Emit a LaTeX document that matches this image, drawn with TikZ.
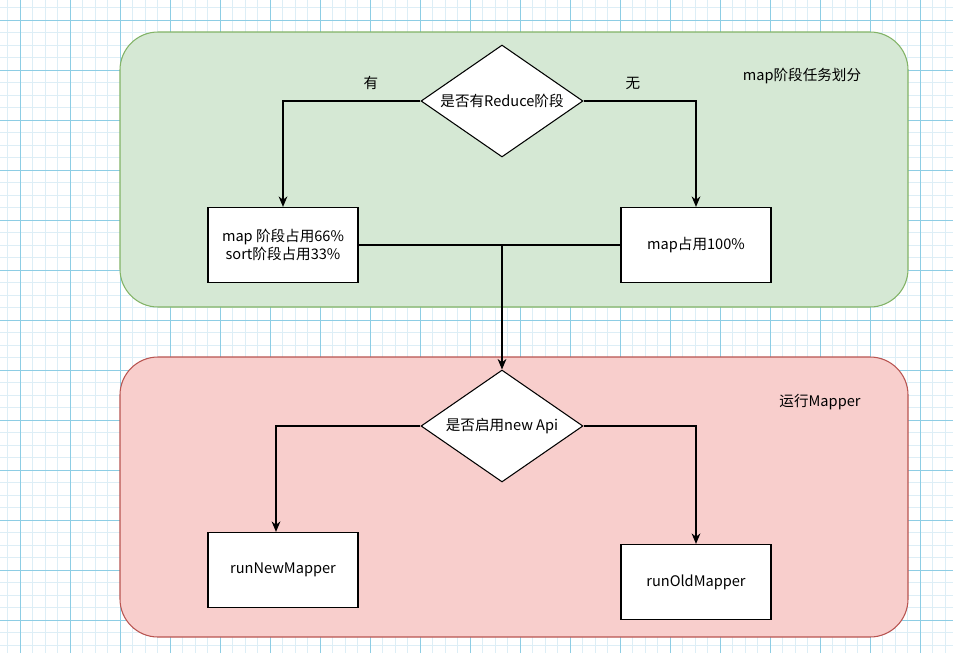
\documentclass[tikz,border=0pt]{standalone}
\usepackage{fontspec}
\setmainfont{Noto Sans CJK SC}
\usetikzlibrary{arrows.meta,positioning,shapes.geometric}
\definecolor{gridminor}{HTML}{DDEEF6}
\definecolor{gridmajor}{HTML}{8DCDE4}
\definecolor{grpgreen}{HTML}{D5E8D4}
\definecolor{grpgreenline}{HTML}{82B366}
\definecolor{grpred}{HTML}{F8CECC}
\definecolor{grpredline}{HTML}{B85450}
\tikzset{
  stepbox/.style ={draw,line width=0.7pt,fill=white,minimum width=3cm,minimum height=1.5cm,inner sep=2pt,align=center},
  choice/.style  ={diamond,draw,line width=0.6pt,fill=white,aspect=1.45,minimum width=3.24cm,minimum height=2.24cm,inner sep=0pt},
  group/.style   ={line width=0.6pt,rounded corners=0.76cm},
  ar/.style      ={line width=0.65pt,-{Stealth[length=6pt,width=5pt]}},
  ln/.style      ={line width=0.65pt},
  tag/.style     ={inner sep=1pt},
}
\begin{document}
\begin{tikzpicture}[x=0.02cm,y=-0.02cm,every node/.style={font=\fontsize{8.3pt}{10.2pt}\selectfont}]
  \useasboundingbox (0,0) rectangle (953,653);
  % grid
  \fill[white] (0,0) rectangle (953,653);
  \foreach \v in {7.5,20,...,953}{
    \draw[gridminor,line width=0.5pt] (\v,0) -- (\v,653);
    \draw[gridminor,line width=0.5pt] (0,\v) -- (953,\v);}
  \foreach \v in {20,70,...,953}{
    \draw[gridmajor,line width=0.5pt] (\v,0) -- (\v,653);
    \draw[gridmajor,line width=0.5pt] (0,\v) -- (953,\v);}
  % groups
  \draw[group,fill=grpgreen,draw=grpgreenline] (120,32) rectangle (908,307);
  \draw[group,fill=grpred,draw=grpredline] (120,357) rectangle (908,637);
  \node[tag] (mapTitle) at (802,76) {map阶段任务划分};
  \node[tag] (runTitle) at (820,402) {运行Mapper};
  % map phase
  \node[choice] (hasReduce) at (502,101) {是否有Reduce阶段};
  \node[stepbox] (withSort) at (283,245) {map 阶段占用66\%\\sort阶段占用33\%};
  \node[stepbox] (mapOnly) at (696,245) {map占用100\%};
  \draw[ar] (hasReduce.west) -| node[pos=0.18,above=5pt,tag]{有} (withSort.north);
  \draw[ar] (hasReduce.east) -| node[pos=0.22,above=5pt,tag]{无} (mapOnly.north);
  \coordinate (join) at (502,245);
  \draw[ln] (withSort.east) -- (join);
  \draw[ln] (mapOnly.west) -- (join);
  % run mapper
  \node[choice] (newApi) at (502,426) {是否启用new Api};
  \node[stepbox] (newMapper) at (283,570) {runNewMapper};
  \node[stepbox] (oldMapper) at (696,582) {runOldMapper};
  \draw[ar] (join) -- (newApi.north);
  \draw[ar] (newApi.west) -| ([xshift=-0.14cm]newMapper.north);
  \draw[ar] (newApi.east) -| (oldMapper.north);
\end{tikzpicture}
\end{document}
